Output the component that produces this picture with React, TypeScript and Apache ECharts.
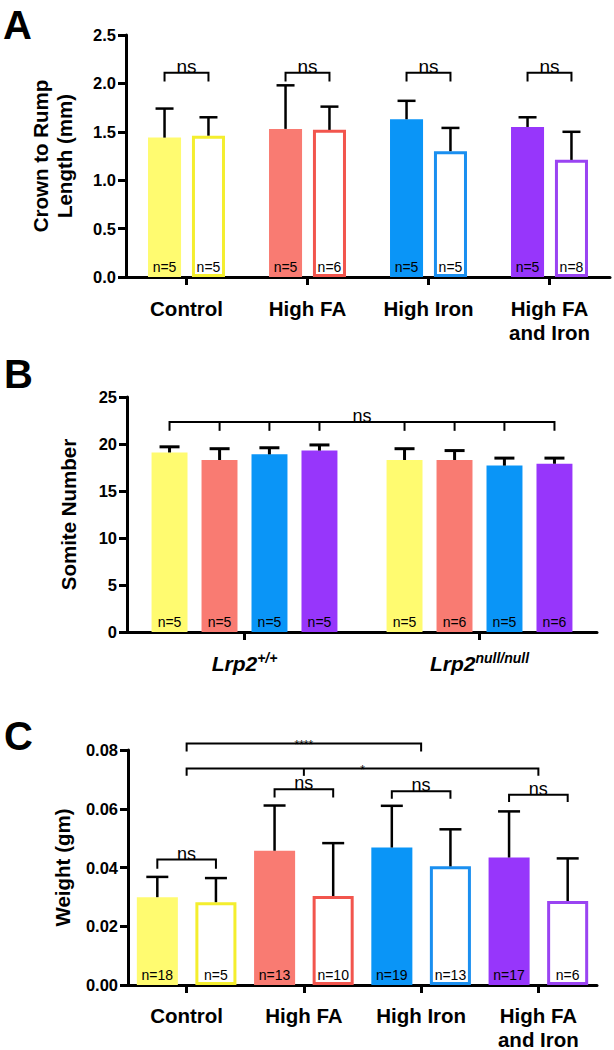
import React, { useEffect, useRef } from "react";
import * as echarts from "echarts";

// ---------- Data ----------
const dietCategories = ["Control", "High FA", "High Iron", "High FA\nand Iron"];

// Panel A: crown to rump length (mm)
const crownFilled = [1.44, 1.53, 1.63, 1.55];
const crownFilledSD = [0.3, 0.45, 0.19, 0.1];
const crownEmpty = [1.46, 1.52, 1.3, 1.21];
const crownEmptySD = [0.19, 0.24, 0.24, 0.29];
const crownNFilled = [5, 5, 5, 5];
const crownNEmpty = [5, 6, 5, 8];

// Panel B: somite number
const genotypeBase = "Lrp2";
const genotypeSup = ["+/+", "null/null"];
const somiteYellow = [19.1, 18.3];
const somiteYellowSD = [0.6, 1.2];
const somiteRed = [18.3, 18.3];
const somiteRedSD = [1.2, 1.0];
const somiteBlue = [18.9, 17.7];
const somiteBlueSD = [0.7, 0.8];
const somitePurple = [19.3, 17.9];
const somitePurpleSD = [0.6, 0.6];
const somiteNYellow = [5, 5];
const somiteNRed = [5, 6];
const somiteNBlue = [5, 5];
const somiteNPurple = [5, 6];

// Panel C: weight (gm)
const weightFilled = [0.0299, 0.0457, 0.0468, 0.0434];
const weightFilledSD = [0.0069, 0.0154, 0.0142, 0.0157];
const weightEmpty = [0.0282, 0.0303, 0.0404, 0.0286];
const weightEmptySD = [0.0082, 0.018, 0.0126, 0.0145];
const weightNFilled = [18, 13, 19, 17];
const weightNEmpty = [5, 10, 13, 6];

// Significance brackets: [category, slot] (slot null = category centre)
const bracketsA = [
  { from: [0, 0], to: [0, 1], y: 2.11, leg: 2.02, text: "ns" },
  { from: [1, 0], to: [1, 1], y: 2.11, leg: 2.02, text: "ns" },
  { from: [2, 0], to: [2, 1], y: 2.11, leg: 2.02, text: "ns" },
  { from: [3, 0], to: [3, 1], y: 2.11, leg: 2.02, text: "ns" },
];
const bracketsB = [
  {
    from: [0, 0], to: [1, 3], y: 22.34, leg: 21.4, text: "ns",
    mids: [[0, 1], [0, 2], [0, 3], [1, 0], [1, 1], [1, 2]],
  },
];
const bracketsC = [
  { from: [0, null], to: [2, null], y: 0.0822, leg: 0.0795, text: "****" },
  { from: [0, null], to: [3, null], y: 0.0737, leg: 0.0712, text: "*", mids: [[1, null]] },
  { from: [0, 0], to: [0, 1], y: 0.0427, leg: 0.0396, text: "ns" },
  { from: [1, 0], to: [1, 1], y: 0.0666, leg: 0.0638, text: "ns" },
  { from: [2, 0], to: [2, 1], y: 0.066, leg: 0.0634, text: "ns" },
  { from: [3, 0], to: [3, 1], y: 0.0648, leg: 0.0623, text: "ns" },
];

// ---------- Styles ----------
const FONT = "Liberation Sans, Arial, Helvetica, sans-serif";
const NARROW = "Liberation Sans Narrow, Arial Narrow, Liberation Sans, sans-serif";
const fillColors = ["#FFFB70", "#F97B72", "#0A95F7", "#9736FB"];
const edgeColors = ["#F4EE2E", "#F2554D", "#1A8FF0", "#9A44F2"];

const slotsA = [-0.1815, 0.1815];
const slotsB = [-0.319, -0.106, 0.106, 0.319];
const slotsC = [-0.25, 0.25];

function errRender(slots: number[], cap: number, lw: number) {
  return (params: any, api: any) => {
    const band = api.size([1, 0])[0];
    const cat = api.value(0);
    const slot = api.value(3);
    const p0 = api.coord([cat, api.value(1)]);
    const p1 = api.coord([cat, api.value(2)]);
    const x = p0[0] + slots[slot] * band;
    const st = { stroke: "#000", lineWidth: lw };
    return {
      type: "group",
      children: [
        { type: "line", shape: { x1: x, y1: p0[1], x2: x, y2: p1[1] }, style: st },
        { type: "line", shape: { x1: x - cap, y1: p1[1], x2: x + cap, y2: p1[1] }, style: st },
      ],
    };
  };
}

function bracketRender(list: any[], slots: number[], fontSize: number, textDy: (t: string) => number) {
  return (params: any, api: any) => {
    const b = list[params.dataIndex];
    const band = api.size([1, 0])[0];
    const xOf = (p: any[]) => api.coord([p[0], 0])[0] + (p[1] == null ? 0 : slots[p[1]]) * band;
    const yTop = api.coord([0, b.y])[1];
    const yLeg = api.coord([0, b.leg])[1];
    const x1 = xOf(b.from);
    const x2 = xOf(b.to);
    const st = { stroke: "#000", lineWidth: 2, fill: null };
    const children: any[] = [
      { type: "polyline", shape: { points: [[x1, yLeg], [x1, yTop], [x2, yTop], [x2, yLeg]] }, style: st },
    ];
    (b.mids || []).forEach((m: any[]) => {
      const xm = xOf(m);
      children.push({ type: "line", shape: { x1: xm, y1: yTop, x2: xm, y2: yLeg }, style: st });
    });
    children.push({
      type: "text",
      style: {
        text: b.text,
        x: (x1 + x2) / 2,
        y: yTop + textDy(b.text),
        align: "center",
        verticalAlign: "bottom",
        fontSize: b.text === "ns" ? fontSize : 12,
        fontFamily: b.text === "ns" ? NARROW : FONT,
        fill: "#000",
      },
    });
    return { type: "group", children };
  };
}

const nLabel = (arr: number[], size = 14) => ({
  show: true,
  position: "insideBottom",
  distance: 3,
  formatter: (p: any) => "n=" + arr[p.dataIndex],
  fontSize: size,
  fontFamily: FONT,
  color: "#000",
});

function yAxisCfg(grid: number, max: number, interval: number, digits: number, name: string, nameGap: number) {
  return {
    type: "value",
    gridIndex: grid,
    min: 0,
    max,
    interval,
    name,
    nameLocation: "middle",
    nameRotate: 90,
    nameGap,
    nameTextStyle: { fontSize: 20.5, fontWeight: "bold", fontFamily: FONT, color: "#000", lineHeight: 24 },
    axisLine: { show: true, lineStyle: { color: "#000", width: 3 } },
    axisTick: { show: true, length: 8, lineStyle: { color: "#000", width: 3 } },
    axisLabel: {
      margin: 10,
      fontSize: 16.5,
      fontWeight: "bold",
      fontFamily: FONT,
      color: "#000",
      formatter: (v: number) => v.toFixed(digits),
    },
    splitLine: { show: false },
  };
}

function xAxisCfg(grid: number, data: string[], margin: number, extra: any = {}) {
  return {
    type: "category",
    gridIndex: grid,
    data,
    axisLine: { show: true, lineStyle: { color: "#000", width: 3 } },
    axisTick: { show: true, alignWithLabel: true, length: 8, lineStyle: { color: "#000", width: 3 } },
    axisLabel: {
      interval: 0,
      margin,
      fontSize: 20.5,
      lineHeight: 24,
      fontWeight: "bold",
      fontFamily: FONT,
      color: "#000",
      ...extra,
    },
  };
}

export default function App() {
  const ref = useRef<HTMLDivElement>(null);

  useEffect(() => {
    if (!ref.current) return;
    const chart = echarts.init(ref.current, undefined, { renderer: "svg" });

    const filledData = (vals: number[]) =>
      vals.map((v, i) => ({ value: v, itemStyle: { color: fillColors[i] } }));
    const emptyData = (vals: number[]) =>
      vals.map((v, i) => ({ value: v, itemStyle: { color: "#fff", borderColor: edgeColors[i], borderWidth: 3 } }));
    const errData = (vals: number[], sd: number[], slot: number) =>
      vals.map((v, i) => [i, v, v + sd[i], slot]);

    const bSeries = [
      [somiteYellow, somiteYellowSD, somiteNYellow],
      [somiteRed, somiteRedSD, somiteNRed],
      [somiteBlue, somiteBlueSD, somiteNBlue],
      [somitePurple, somitePurpleSD, somiteNPurple],
    ];

    const option: any = {
      animation: false,
      backgroundColor: "#fff",
      grid: [
        { left: 126, top: 35, width: 484, height: 242, outerBoundsMode: "none" },
        { left: 127, top: 397, width: 470, height: 235, outerBoundsMode: "none" },
        { left: 128, top: 750, width: 469, height: 235, outerBoundsMode: "none" },
      ],
      xAxis: [
        xAxisCfg(0, dietCategories, 19),
        xAxisCfg(1, genotypeSup, 19, {
          formatter: (v: string) => `{a|${genotypeBase}}{b|${v}}`,
          rich: {
            a: { fontSize: 21, fontWeight: "bold", fontStyle: "italic", fontFamily: FONT, lineHeight: 24, color: "#000" },
            b: { fontSize: 14, fontWeight: "bold", fontStyle: "italic", fontFamily: FONT, lineHeight: 24, verticalAlign: "top", color: "#000" },
          },
        }),
        xAxisCfg(2, dietCategories, 18),
      ],
      yAxis: [
        yAxisCfg(0, 2.5, 0.5, 1, "Crown to Rump\nLength (mm)", 50),
        yAxisCfg(1, 25, 5, 0, "Somite Number", 47),
        yAxisCfg(2, 0.08, 0.02, 2, "Weight (gm)", 53),
      ],
      series: [
        // Panel A
        { type: "bar", xAxisIndex: 0, yAxisIndex: 0, barWidth: "27.3%", barGap: "33%", data: filledData(crownFilled), label: nLabel(crownNFilled) },
        { type: "bar", xAxisIndex: 0, yAxisIndex: 0, barWidth: "27.3%", barGap: "33%", data: emptyData(crownEmpty), label: nLabel(crownNEmpty) },
        {
          type: "custom", xAxisIndex: 0, yAxisIndex: 0, z: 5, clip: false,
          renderItem: errRender(slotsA, 9, 2.5),
          data: [...errData(crownFilled, crownFilledSD, 0), ...errData(crownEmpty, crownEmptySD, 1)],
        },
        {
          type: "custom", xAxisIndex: 0, yAxisIndex: 0, z: 5, clip: false,
          renderItem: bracketRender(bracketsA, slotsA, 19, () => 3),
          data: bracketsA.map((b) => [b.from[0], b.y]),
        },
        // Panel B
        ...bSeries.map((s, k) => ({
          type: "bar", xAxisIndex: 1, yAxisIndex: 1, barWidth: "15.3%", barGap: "39%",
          itemStyle: { color: fillColors[k] },
          data: s[0],
          label: nLabel(s[2] as number[]),
        })),
        {
          type: "custom", xAxisIndex: 1, yAxisIndex: 1, z: 5, clip: false,
          renderItem: errRender(slotsB, 10, 3),
          data: bSeries.flatMap((s, k) => errData(s[0] as number[], s[1] as number[], k)),
        },
        {
          type: "custom", xAxisIndex: 1, yAxisIndex: 1, z: 5, clip: false,
          renderItem: bracketRender(bracketsB, slotsB, 18, () => 3),
          data: bracketsB.map((b) => [b.from[0], b.y]),
        },
        // Panel C
        { type: "bar", xAxisIndex: 2, yAxisIndex: 2, barWidth: "35%", barGap: "42.7%", data: filledData(weightFilled), label: nLabel(weightNFilled) },
        { type: "bar", xAxisIndex: 2, yAxisIndex: 2, barWidth: "35%", barGap: "42.7%", data: emptyData(weightEmpty), label: nLabel(weightNEmpty) },
        {
          type: "custom", xAxisIndex: 2, yAxisIndex: 2, z: 5, clip: false,
          renderItem: errRender(slotsC, 11, 2.5),
          data: [...errData(weightFilled, weightFilledSD, 0), ...errData(weightEmpty, weightEmptySD, 1)],
        },
        {
          type: "custom", xAxisIndex: 2, yAxisIndex: 2, z: 5, clip: false,
          renderItem: bracketRender(bracketsC, slotsC, 18, (t: string) => (t === "ns" ? 3 : 7)),
          data: bracketsC.map((b) => [b.from[0], b.y]),
        },
      ],
      graphic: [
        { type: "text", left: 3, top: 5, style: { text: "A", fontSize: 40, fontWeight: "bold", fontFamily: FONT, fill: "#000" } },
        { type: "text", left: 4, top: 354, style: { text: "B", fontSize: 40, fontWeight: "bold", fontFamily: FONT, fill: "#000" } },
        { type: "text", left: 4, top: 716, style: { text: "C", fontSize: 40, fontWeight: "bold", fontFamily: FONT, fill: "#000" } },
      ],
    };

    chart.setOption(option);
    return () => chart.dispose();
  }, []);

  return (
    <div
      ref={ref}
      style={{ position: "absolute", left: 0, top: 0, width: 614, height: 1050, background: "#fff" }}
    />
  );
}
